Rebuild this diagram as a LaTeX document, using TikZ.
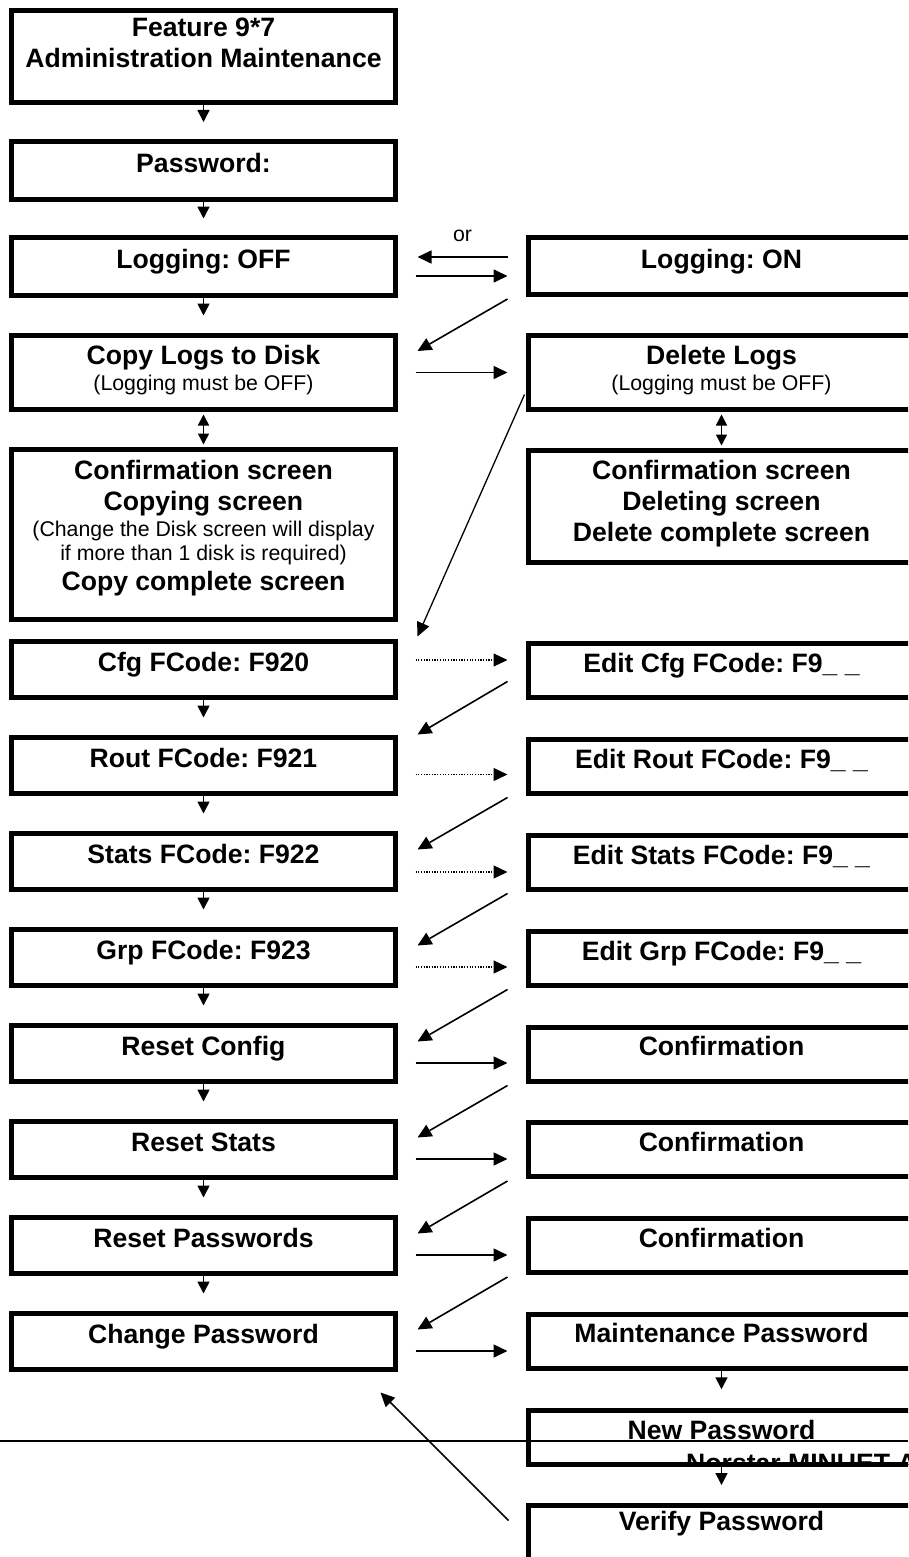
\documentclass[tikz,border=0pt]{standalone}
\usepackage{fontspec}
\setmainfont{Liberation Sans}
\frenchspacing
\usetikzlibrary{arrows.meta,calc}
\tikzset{
  lbox/.style={draw, line width=5pt, fill=white, minimum width=384pt, inner sep=0pt},
  rbox/.style={draw, line width=5pt, fill=white, minimum width=386pt, inner sep=0pt},
  lrow/.style={lbox, minimum height=56pt},
  rrow/.style={rbox, minimum height=54pt},
  btxt/.style={font=\fontsize{26.6}{31}\selectfont\bfseries\frenchspacing, anchor=base, inner sep=0pt},
  stxt/.style={font=\fontsize{21.3}{24}\selectfont\frenchspacing, anchor=base, inner sep=0pt},
  conn/.style={line width=1.6pt},
  harr/.style={conn, -{Triangle[length=14pt,width=13pt]}},
  darr/.style={conn, -{Triangle[length=12pt,width=12pt]}},
  dblarr/.style={conn, {Triangle[length=11pt,width=11pt]}-{Triangle[length=11pt,width=11pt]}, shorten <=2.5pt, shorten >=2.5pt},
  dotarr/.style={harr, line width=1.3pt, dash pattern=on 1.2pt off 1.5pt},
}
\begin{document}
\begin{tikzpicture}[x=1pt,y=-1pt]
\useasboundingbox (0,0) rectangle (908,1557);
\clip (0,0) rectangle (908,1557);

% ---------- left column ----------
\node[lbox, minimum height=92pt] (feat) at (203.5,56.5) {};
\node[lbox, minimum height=58pt] (pw) at (203.5,170.5) {};
\node[lbox, minimum height=58pt] (loff) at (203.5,266.5) {};
\node[lbox, minimum height=74pt] (copy) at (203.5,372.5) {};
\node[lbox, minimum height=170pt] (confL) at (203.5,534.5) {};
\node[lrow] (cfg) at (203.5,669.5) {};
\node[lrow] (rout) at (203.5,765.5) {};
\node[lrow] (stats) at (203.5,861.5) {};
\node[lrow] (grp) at (203.5,957.5) {};
\node[lrow] (rcfg) at (203.5,1053.5) {};
\node[lrow] (rst) at (203.5,1149.5) {};
\node[lrow] (rpw) at (203.5,1245.5) {};
\node[lrow] (chpw) at (203.5,1341.5) {};

% ---------- right column ----------
\node[rbox, minimum height=57pt] (lon) at (721.5,266) {};
\node[rbox, minimum height=74pt] (dlogs) at (721.5,372.5) {};
\node[rbox, minimum height=112pt] (confR) at (721.5,506.5) {};
\node[rrow] (ecfg) at (721.5,670) {};
\node[rrow] (erout) at (721.5,766) {};
\node[rrow] (estats) at (721.5,862) {};
\node[rrow] (egrp) at (721.5,958) {};
\node[rrow] (conf1) at (721.5,1054) {};
\node[rrow] (conf2) at (721.5,1149.5) {};
\node[rrow] (conf3) at (721.5,1245.5) {};
\node[rrow] (maint) at (721.5,1341) {};
\node[rrow] (newpw) at (721.5,1437.5) {};
\node[rbox, minimum height=75pt] (verify) at (721.5,1543) {};

% ---------- texts ----------
\node[btxt] at ($(feat.center)+(0,-19.5)$) {Feature 9*7};
\node[btxt] at ($(feat.center)+(0,11.5)$) {Administration Maintenance};
\node[btxt] at ($(pw.center)+(0,2.5)$) {Password:};
\node[btxt] at ($(loff.center)+(0,1.5)$) {Logging: OFF};
\node[btxt] at ($(lon.center)+(0,2)$) {Logging: ON};
\node[btxt] at ($(copy.center)+(0,-8.5)$) {Copy Logs to Disk};
\node[stxt] at ($(copy.center)+(0,17.5)$) {(Logging must be OFF)};
\node[btxt] at ($(dlogs.center)+(0,-8.5)$) {Delete Logs};
\node[stxt] at ($(dlogs.center)+(0,17.5)$) {(Logging must be OFF)};
\node[btxt] at ($(confL.center)+(0,-55)$) {Confirmation screen};
\node[btxt] at ($(confL.center)+(0,-24)$) {Copying screen};
\node[stxt] at ($(confL.center)+(0,1.5)$) {(Change the Disk screen will display};
\node[stxt] at ($(confL.center)+(0,25.5)$) {if more than 1 disk is required)};
\node[btxt] at ($(confL.center)+(0,55.5)$) {Copy complete screen};
\node[btxt] at ($(confR.center)+(0,-27)$) {Confirmation screen};
\node[btxt] at ($(confR.center)+(0,4)$) {Deleting screen};
\node[btxt] at ($(confR.center)+(0,35)$) {Delete complete screen};
\node[btxt] at ($(cfg.center)+(0,2)$) {Cfg FCode: F920};
\node[btxt] at ($(rout.center)+(0,2)$) {Rout FCode: F921};
\node[btxt] at ($(stats.center)+(0,2)$) {Stats FCode: F922};
\node[btxt] at ($(grp.center)+(0,2)$) {Grp FCode: F923};
\node[btxt] at ($(rcfg.center)+(0,2)$) {Reset Config};
\node[btxt] at ($(rst.center)+(0,2)$) {Reset Stats};
\node[btxt] at ($(rpw.center)+(0,2)$) {Reset Passwords};
\node[btxt] at ($(chpw.center)+(0,2)$) {Change Password};
\node[btxt] at ($(ecfg.center)+(0,2)$) {Edit Cfg FCode: F9\_ \_};
\node[btxt] at ($(erout.center)+(0,2)$) {Edit Rout FCode: F9\_ \_};
\node[btxt] at ($(estats.center)+(0,2)$) {Edit Stats FCode: F9\_ \_};
\node[btxt] at ($(egrp.center)+(0,2)$) {Edit Grp FCode: F9\_ \_};
\node[btxt] at ($(conf1.center)+(0,1.5)$) {Confirmation};
\node[btxt] at ($(conf2.center)+(0,1.5)$) {Confirmation};
\node[btxt] at ($(conf3.center)+(0,1.5)$) {Confirmation};
\node[btxt] at ($(maint.center)+(0,1.5)$) {Maintenance Password};
\node[btxt] at ($(newpw.center)+(0,1.5)$) {New Password};
\node[btxt] at ($(verify.north)+(0,27.5)$) {Verify Password};

% ---------- vertical arrows ----------
\foreach \a/\b in {feat/pw, pw/loff, loff/copy, cfg/rout, rout/stats, stats/grp, grp/rcfg, rcfg/rst, rst/rpw, rpw/chpw, maint/newpw, newpw/verify}
  \draw[darr] (\a.south) -- ($(\a.south)!0.5!(\b.north)$);
\draw[dblarr] (copy.south) -- (confL.north);
\draw[dblarr] (dlogs.south) -- (confR.north);

% ---------- horizontal arrows ----------
\draw[harr] ($(lon.west |- loff.east)+(-18.5,-9.5)$) -- ($(loff.east)+(19.5,-9.5)$)
  node[stxt, pos=0.5, yshift=16pt] (or) {or};
\draw[harr] ($(loff.east)+(17.5,9.5)$) -- ($(lon.west |- loff.east)+(-18.5,9.5)$);
\draw[harr] ($(copy.east)+(17.5,0)$) -- ($(dlogs.west |- copy.east)+(-18.5,0)$);
\draw[dotarr] ($(cfg.east)+(17.5,-9.5)$) -- ($(ecfg.west |- cfg.east)+(-18.5,-9.5)$);
\draw[dotarr] ($(rout.east)+(17.5,9)$) -- ($(erout.west |- rout.east)+(-18.5,9)$);
\draw[dotarr] ($(stats.east)+(17.5,10.5)$) -- ($(estats.west |- stats.east)+(-18.5,10.5)$);
\draw[dotarr] ($(grp.east)+(17.5,9.5)$) -- ($(egrp.west |- grp.east)+(-18.5,9.5)$);
\foreach \a/\b in {rcfg/conf1, rst/conf2, rpw/conf3, chpw/maint}
  \draw[harr] ($(\a.east)+(17.5,9.5)$) -- ($(\b.west |- \a.east)+(-18.5,9.5)$);

% ---------- diagonal return arrows ----------
\draw[harr] ($(lon.south west)+(-18.5,2)$) -- ($(copy.north east)+(19.5,18)$);
\draw[harr, line width=1.3pt] ($(dlogs.west)+(-1.5,22)$) -- ($(cfg.north east)+(19.5,-2.5)$);
\draw[harr] ($(ecfg.south west)+(-18.5,-18)$) -- ($(rout.north east)+(19.5,-0.5)$);
\foreach \r/\l in {erout/stats, estats/grp, egrp/rcfg, conf1/rst, conf2/rpw, conf3/chpw}
  \draw[harr] ($(\r.south west)+(-18.5,2)$) -- ($(\l.north east)+(19.5,18.5)$);
\draw[harr] ($(verify.north west)+(-17.5,17.5)$) -- ($(chpw.south east)+(-17.5,20.5)$);

% ---------- page footer ----------
\begin{scope}
  \clip (0,0) rectangle (908,1464);
  \node[btxt, anchor=base west] (footer) at (686,1472) {Norstar MINUET A};
\end{scope}
\coordinate (ruleL) at (0,1441);
\coordinate (ruleR) at (908,1441);
\draw[line width=2pt] (ruleL) -- (ruleR);
\end{tikzpicture}
\end{document}
